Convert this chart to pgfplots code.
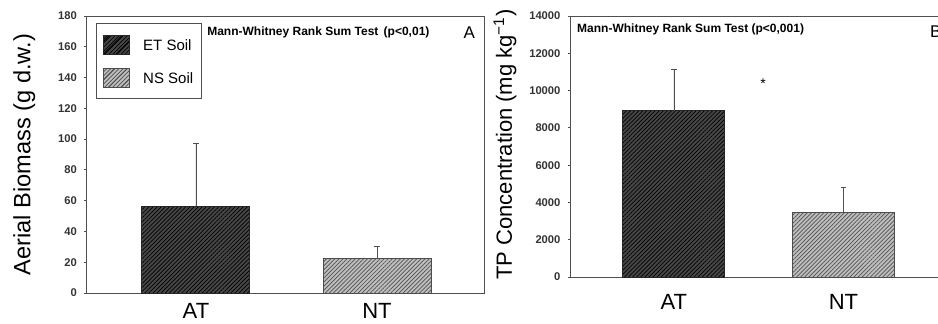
\documentclass[border=0pt]{standalone}
\usepackage{pgfplots}
\pgfplotsset{compat=1.18}
\usepackage{fontspec}
\setmainfont{Liberation Sans}
\usetikzlibrary{patterns.meta}
\definecolor{etfill}{HTML}{474747}
\definecolor{nsfill}{HTML}{BEBEBE}
\definecolor{nsline}{HTML}{505050}
\definecolor{axcol}{HTML}{505050}
\pgfplotsset{
  mybase/.style={
    scale only axis,
    axis line style={axcol, line width=0.5pt},
    ymin=0,
    xtick={0,1}, xticklabels={AT,NT},
    xtick style={draw=none},
    xticklabel style={font=\fontsize{11}{13}\selectfont, anchor=center},
    ytick align=outside, ytick pos=left,
    major tick length=1.6pt,
    ytick style={axcol, line width=0.4pt},
    yticklabel style={font=\fontsize{5.6}{6.5}\selectfont\bfseries, text=black!80},
    scaled y ticks=false,
    /pgf/number format/assume math mode=true,
    /pgf/number format/1000 sep={},
    ylabel style={anchor=center},
    ybar, bar shift=0pt,
    error bars/y dir=plus, error bars/y explicit,
    error bars/error bar style={axcol, line width=0.4pt},
    error bars/error mark options={axcol, line width=0.4pt, mark size=1.3pt, rotate=90},
  },
  etbar/.style={fill=etfill, draw=black!85, line width=0.5pt,
    postaction={pattern={Lines[angle=45,distance=1.45pt,line width=0.35pt]}, pattern color=black}},
  nsbar/.style={fill=nsfill, draw=black!70, line width=0.5pt,
    postaction={pattern={Lines[angle=45,distance=1.45pt,line width=0.35pt]}, pattern color=nsline}},
}
\begin{document}
\begin{tikzpicture}
\useasboundingbox (0,0) rectangle (469pt,161.5pt);
\clip (0,0) rectangle (469pt,161.5pt);
% Left panel
\begin{axis}[mybase,
  at={(43.5pt,15pt)}, anchor=south west,
  width=198.5pt, height=138.5pt,
  xmin=-0.602, xmax=1.591,
  ymax=180, ytick={0,20,...,180},
  bar width=54pt,
  xticklabel style={yshift=-7.5pt},
  ylabel={Aerial Biomass (g d.w.)},
  ylabel style={at={(axis description cs:-0.158,0.5)}, font=\fontsize{11.8}{14}\selectfont},
  legend style={at={(0.022,0.974)}, anchor=north west, draw=axcol, line width=0.5pt,
    font=\fontsize{7.5}{9}\selectfont, inner xsep=3.5pt, inner ysep=5.5pt,
    row sep=6.5pt, column sep=6pt, nodes={inner sep=0.5pt, text depth=0pt}},
  legend cell align=left,
]
\addplot[etbar,
  legend image code/.code={\draw[fill=etfill, draw=black!85, line width=0.5pt,
    postaction={pattern={Lines[angle=45,distance=4.5pt,line width=0.4pt]}, pattern color=black}]
    (0pt,-4.75pt) rectangle (13pt,4.75pt);}
] coordinates {(0,56.5) +- (0,40.8)};
\addlegendentry{ET Soil}
\addplot[nsbar,
  legend image code/.code={\draw[fill=nsfill, draw=black!70, line width=0.5pt,
    postaction={pattern={Lines[angle=45,distance=4.5pt,line width=0.4pt]}, pattern color=nsline}]
    (0pt,-4.75pt) rectangle (13pt,4.75pt);}
] coordinates {(1,22.5) +- (0,8.0)};
\addlegendentry{NS Soil}
\node[anchor=west, font=\fontsize{6}{7}\selectfont\bfseries, inner sep=0pt]
  at (rel axis cs:0.302,0.942) {Mann-Whitney Rank Sum Test\, (p<0,01)};
\node[font=\fontsize{8.5}{10}\selectfont, inner sep=0pt] at (rel axis cs:0.963,0.939) {A};
\end{axis}
% Right panel
\begin{axis}[mybase,
  at={(285.35pt,23pt)}, anchor=south west,
  width=190pt, height=130.5pt,
  xmin=-0.609, xmax=1.633,
  ymax=14000, ytick={0,2000,...,14000},
  bar width=51pt,
  xticklabel style={yshift=-11pt},
  ylabel={TP Concentration (mg kg\textsuperscript{\char"2212 1})},
  ylabel style={at={(axis description cs:-0.173,0.508)}, font=\fontsize{11}{13}\selectfont},
]
\addplot[etbar] coordinates {(0,8920) +- (0,2220)};
\addplot[nsbar] coordinates {(1,3470) +- (0,1360)};
\node[anchor=west, font=\fontsize{6}{7}\selectfont\bfseries, inner sep=0pt]
  at (rel axis cs:0.016,0.950) {Mann-Whitney Rank Sum Test (p<0,001)};
\node[font=\fontsize{7}{8}\selectfont, inner sep=0pt] at (axis cs:0.526,10350) {*};
\node[font=\fontsize{8.5}{10}\selectfont, inner sep=0pt] at (rel axis cs:0.961,0.939) {B};
\end{axis}
\end{tikzpicture}
\end{document}
